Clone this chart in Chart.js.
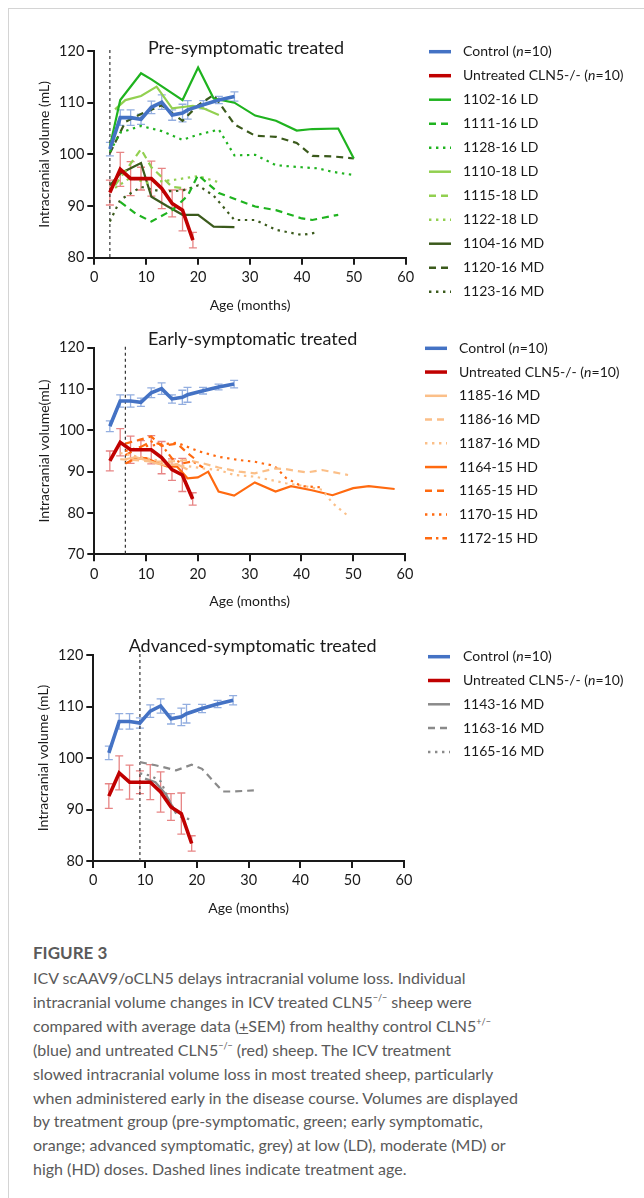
<!DOCTYPE html>
<html>
<head>
<meta charset="utf-8">
<script src="https://cdn.jsdelivr.net/npm/chart.js@4.4.1/dist/chart.umd.min.js"></script>
<style>
html, body { margin: 0; padding: 0; background: #fff; }
body { width: 644px; height: 1198px; position: relative; overflow: hidden; font-family: Lato, "Open Sans", sans-serif; }
#frame { position: absolute; left: 8px; top: 8px; width: 640px; height: 1200px; border-left: 1px solid #d4d4d4; border-top: 1px solid #d4d4d4; }
.panel { position: absolute; left: 0; width: 644px; }
#figlabel { position: absolute; left: 33px; top: 942px; font-size: 17px; font-weight: bold; color: #5a5a5a; line-height: 22px; }
#caption { position: absolute; left: 33px; top: 966px; width: 605px; font-size: 16px; line-height: 23.9px; color: #5a5a5a; white-space: nowrap; }
#caption sup { font-size: 9px; line-height: 0; vertical-align: 7px; }
</style>
</head>
<body>
<div id="frame"></div>
<div class="panel" style="top:0;height:320px"><canvas id="pre"></canvas></div>
<div class="panel" style="top:320px;height:310px"><canvas id="early"></canvas></div>
<div class="panel" style="top:630px;height:300px"><canvas id="adv"></canvas></div>
<div id="figlabel">FIGURE 3</div>
<div id="caption">ICV scAAV9/oCLN5 delays intracranial volume loss. Individual<br>intracranial volume changes in ICV treated CLN5<sup>&minus;/&minus;</sup> sheep were<br>compared with average data (<u>+</u>SEM) from healthy control CLN5<sup>+/&minus;</sup><br>(blue) and untreated CLN5<sup>&minus;/&minus;</sup> (red) sheep. The ICV treatment<br>slowed intracranial volume loss in most treated sheep, particularly<br>when administered early in the disease course. Volumes are displayed<br>by treatment group (pre-symptomatic, green; early symptomatic,<br>orange; advanced symptomatic, grey) at low (LD), moderate (MD) or<br>high (HD) doses. Dashed lines indicate treatment age.</div>
<script>
// control and untreated group means (+/- SEM), same in every panel
const ctrlAge = [3, 5, 7, 9, 11, 13, 15, 17, 18, 21, 24, 27];
const ctrlVol = [101.0, 107.1, 107.1, 106.8, 109.1, 110.1, 107.6, 108.0, 108.6, 109.6, 110.5, 111.2];
const ctrlSem = [1.3, 1.5, 1.5, 1.0, 1.2, 1.4, 1.0, 1.7, 1.8, 0.8, 0.7, 0.9];
const untrAge = [3, 5, 7, 9, 11, 13, 15, 17, 19];
const untrVol = [92.6, 97.1, 95.3, 95.3, 95.3, 93.4, 90.5, 89.2, 83.4];
const untrSem = [2.4, 3.3, 3.3, 2.2, 3.4, 3.9, 2.6, 4.0, 1.5];

// pre-symptomatic treated sheep, [age, volume]
const s1102 = [[3,101.5],[5,110.5],[9,115.7],[11,114.5],[17,110.5],[20,116.8],[23,110.8],[27,110],[31,107.5],[35,106.5],[39,104.6],[42,104.9],[47,105],[50,99.2]];
const s1111 = [[5,90.8],[8,88.5],[11,87],[15,89.2],[18,92],[20,96],[24,92.5],[31,89.9],[35,89.2],[40,87.6],[42,87.3],[47,88.3]];
const s1128 = [[3,100.5],[5,104.2],[9,105.5],[13,104.5],[17,102.8],[20,103.8],[24,104.8],[27,99.8],[31,99.9],[35,97.9],[40,97.5],[43,97.3],[46,96.6],[50,96]];
const s1110 = [[4,108.7],[6,110.5],[9,111.3],[12,113.1],[15,108.9],[19,109.4],[21,108.9],[24,107.6]];
const s1115 = [[4,94],[9,101],[11,97.5],[15,93.7],[17,93.5]];
const s1122 = [[4,93.5],[7,95.5],[10,94.5],[15,95],[20,95.8],[24,94.6]];
const s1104 = [[3,94],[5,96.3],[9,98.3],[11,91.8],[14,90],[17,88.3],[20,88.3],[23,86],[27,85.9]];
const s1120 = [[3,100.2],[6,106.3],[9,107.8],[13,109.5],[17,106.5],[20,109.5],[23,111.5],[27,105.8],[31,103.6],[35,103.4],[39,102.2],[42,99.7],[46,99.6],[50,99.2]];
const s1123 = [[3,87],[5,91.2],[9,93.7],[13,92.8],[17,93],[20,94],[23,92],[27,87.3],[31,87.3],[35,85.4],[40,84.4],[43,84.9]];

// early-symptomatic treated sheep
const s1185 = [[6,93],[8,93.5],[10,92.8],[12,92],[14,91.5],[16,91.8],[18,90.5]];
const s1186 = [[5,93],[8,92.8],[11,92.4],[15,92.5],[18,92.8],[21,92],[24,91],[28,90],[31,89.6],[35,90.8],[37,90.6],[41,89.8],[44,90.4],[49,89.2]];
const s1187 = [[5,94.5],[9,93.5],[13,92.5],[17,91.5],[21,90.8],[24,90.4],[27,89.2],[31,88.8],[34,88],[37,87.2],[41,86.4],[44,85.6],[46,82.4],[49,79.3]];
const s1164 = [[6,92],[8,93.2],[10,93.3],[12,92.2],[14,91.3],[16,91.2],[18,88.4],[20,88.6],[22,90],[24,85.2],[27,84.2],[31,87.4],[35,85.2],[38,86.5],[42,85.5],[46,84.3],[50,86],[53,86.5],[58,85.8]];
const s1165 = [[6,96.8],[9,97.8],[11,98.5],[13,96.2],[16,96.8],[18,94.5],[20,92.5]];
const s1170 = [[6,95],[9,96],[12,96.5],[16,97],[20,95],[24,93.6],[28,92.8],[31,92.4],[34,91.6],[35,91.1],[37,88.5],[40,86.5],[44,86.2]];
const s1172 = [[6,94],[9,96],[11,97.3],[13,96.5],[15,93.2],[17,92],[19,92.5],[21,91]];

// advanced-symptomatic treated sheep
const s1143 = [[10,96],[12,95.3],[14,93],[16,89.2]];
const s1163 = [[9,99.2],[12,98.6],[16,97.6],[19,98.7],[21,97.9],[25,93.5],[27,93.5],[31,93.7]];
const s1165b = [[9,97],[11,96.6],[13,95.5],[15,91],[17,88.5],[19,88]];

Chart.defaults.font.family = 'Lato, "Open Sans", sans-serif';
Chart.defaults.color = '#1a1a1a';

const INK = '#1a1a1a';
const BLUE = '#4472c4', RED = '#c00000';
const GREEN = '#1fb31f', LGREEN = '#92d050', DGREEN = '#3b5a1c';
const ORANGE = '#ff6a10', LORANGE = '#fbbf88', GREY = '#8a8a8a';
const SOLID = [], DASH = [7, 5], DOT = [2.4, 4.6], DASHDOT = [7, 4, 2.4, 4];

function series(label, pairs, color, dash) {
  return {
    label: label,
    data: pairs.map(p => ({x: p[0], y: p[1]})),
    borderColor: color, backgroundColor: color,
    borderDash: dash, borderWidth: 2.2,
    pointRadius: 0, tension: 0, fill: false
  };
}

function meanSeries(label, ages, vols, sem, color, barColor) {
  return {
    label: label,
    data: ages.map((a, i) => ({x: a, y: vols[i]})),
    sem: sem, barColor: barColor,
    borderColor: color, backgroundColor: color,
    borderDash: SOLID, borderWidth: 3.6,
    pointRadius: 0, tension: 0, fill: false
  };
}

function groupLines() {
  return [
    meanSeries('Control (n=10)', ctrlAge, ctrlVol, ctrlSem, BLUE, '#93aee0'),
    meanSeries('Untreated CLN5-/- (n=10)', untrAge, untrVol, untrSem, RED, '#e78585')
  ];
}

// SEM whiskers drawn through the chart scales
const errorBars = {
  id: 'errorBars',
  beforeDatasetsDraw(chart) {
    const {ctx, scales: {x, y}} = chart;
    chart.data.datasets.forEach(ds => {
      if (!ds.sem) return;
      ctx.save();
      ctx.strokeStyle = ds.barColor;
      ctx.lineWidth = 1.3;
      ds.data.forEach((p, i) => {
        const px = x.getPixelForValue(p.x);
        const lo = y.getPixelForValue(p.y - ds.sem[i]);
        const hi = y.getPixelForValue(p.y + ds.sem[i]);
        ctx.beginPath();
        ctx.moveTo(px, lo); ctx.lineTo(px, hi);
        ctx.moveTo(px - 4, lo); ctx.lineTo(px + 4, lo);
        ctx.moveTo(px - 4, hi); ctx.lineTo(px + 4, hi);
        ctx.stroke();
      });
      ctx.restore();
    });
  }
};

// dashed vertical line at treatment age
const treatLine = {
  id: 'treatLine',
  beforeDatasetsDraw(chart, args, opts) {
    const {ctx, chartArea: a, scales: {x}} = chart;
    const px = x.getPixelForValue(opts.age);
    ctx.save();
    ctx.setLineDash([3, 3]);
    ctx.strokeStyle = '#333';
    ctx.lineWidth = 1.2;
    ctx.beginPath();
    ctx.moveTo(px, a.top - 1);
    ctx.lineTo(px, a.bottom);
    ctx.stroke();
    ctx.restore();
  }
};

function drawLabel(ctx, text, x, y) {
  const k = text.indexOf('(n=');
  if (k < 0) { ctx.fillText(text, x, y); return; }
  const head = text.slice(0, k + 1), tail = text.slice(k + 2);
  ctx.font = '14px Lato';
  ctx.fillText(head, x, y);
  let cx = x + ctx.measureText(head).width;
  ctx.font = 'italic 14px Lato';
  ctx.fillText('n', cx, y);
  cx += ctx.measureText('n').width;
  ctx.font = '14px Lato';
  ctx.fillText(tail, cx, y);
}

// panel title and right-hand legend
const panelText = {
  id: 'panelText',
  afterDraw(chart, args, o) {
    const {ctx, chartArea: a} = chart;
    ctx.save();
    ctx.fillStyle = INK;
    ctx.font = '18px Lato';
    ctx.textAlign = 'center';
    ctx.textBaseline = 'middle';
    ctx.fillText(o.title, (a.left + a.right) / 2 + o.titleDx, a.top + o.titleDy);
    ctx.textAlign = 'left';
    chart.data.datasets.forEach((ds, i) => {
      const y = o.legY + i * o.legStep;
      ctx.strokeStyle = ds.borderColor;
      ctx.lineWidth = ds.sem ? 3.5 : 2.5;
      ctx.setLineDash(ds.borderDash);
      ctx.beginPath();
      ctx.moveTo(o.legX, y);
      ctx.lineTo(o.legX + 22, y);
      ctx.stroke();
      ctx.setLineDash([]);
      ctx.font = '14px Lato';
      drawLabel(ctx, ds.label, o.legX + o.textGap, y);
    });
    ctx.restore();
  }
};

function axes(yMin, yTitle) {
  return {
    x: {
      type: 'linear', min: 0, max: 60,
      afterFit: s => { s.height = 60; },
      ticks: {stepSize: 10, font: {size: 14.5}, color: INK, padding: 4, maxRotation: 0},
      grid: {drawOnChartArea: false, tickLength: 7, color: INK, lineWidth: 2},
      border: {color: INK, width: 2},
      title: {display: true, text: 'Age (months)', font: {size: 14}, color: INK, padding: {top: 0, bottom: 4}}
    },
    y: {
      type: 'linear', min: yMin, max: 120,
      afterFit: s => { s.width = 60; },
      ticks: {stepSize: 10, font: {size: 14.5}, color: INK, padding: 3},
      grid: {drawOnChartArea: false, tickLength: 7, color: INK, lineWidth: 2},
      border: {color: INK, width: 2},
      title: {display: true, text: yTitle, font: {size: 14}, color: INK, padding: {top: 2, bottom: 0}}
    }
  };
}

function panel(id, datasets, cfg) {
  new Chart(document.getElementById(id), {
    type: 'line',
    data: {datasets: datasets},
    options: {
      responsive: true, maintainAspectRatio: false, animation: false,
      layout: {padding: cfg.pad},
      scales: axes(cfg.yMin, cfg.yTitle),
      plugins: {
        legend: {display: false}, tooltip: {enabled: false},
        treatLine: {age: cfg.age},
        panelText: cfg.text
      }
    },
    plugins: [errorBars, treatLine, panelText]
  });
}

panel('pre', groupLines().concat([
  series('1102-16 LD', s1102, GREEN, SOLID),
  series('1111-16 LD', s1111, GREEN, DASH),
  series('1128-16 LD', s1128, GREEN, DOT),
  series('1110-18 LD', s1110, LGREEN, SOLID),
  series('1115-18 LD', s1115, LGREEN, DASH),
  series('1122-18 LD', s1122, LGREEN, DOT),
  series('1104-16 MD', s1104, DGREEN, SOLID),
  series('1120-16 MD', s1120, DGREEN, DASH),
  series('1123-16 MD', s1123, DGREEN, DOT)
]), {
  yMin: 80, yTitle: 'Intracranial volume (mL)', age: 3,
  pad: {left: 34.3, right: 238.3, top: 51, bottom: 2.3},
  text: {title: 'Pre-symptomatic treated', titleDx: -4, titleDy: -3, legX: 429, legY: 51.7, legStep: 24, textGap: 34}
});

panel('early', groupLines().concat([
  series('1185-16 MD', s1185, LORANGE, SOLID),
  series('1186-16 MD', s1186, LORANGE, DASH),
  series('1187-16 MD', s1187, LORANGE, DOT),
  series('1164-15 HD', s1164, ORANGE, SOLID),
  series('1165-15 HD', s1165, ORANGE, DASH),
  series('1170-15 HD', s1170, ORANGE, DOT),
  series('1172-15 HD', s1172, ORANGE, DASHDOT)
]), {
  yMin: 70, yTitle: 'Intracranial volume(mL)', age: 6,
  pad: {left: 34.3, right: 239, top: 27.7, bottom: 15.7},
  text: {title: 'Early-symptomatic treated', titleDx: 3, titleDy: -9, legX: 425, legY: 28.3, legStep: 23.75, textGap: 34}
});

panel('adv', groupLines().concat([
  series('1143-16 MD', s1143, GREY, SOLID),
  series('1163-16 MD', s1163, GREY, DASH),
  series('1165-16 MD', s1165b, GREY, DOT)
]), {
  yMin: 80, yTitle: 'Intracranial volume (mL)', age: 9,
  pad: {left: 33.3, right: 240, top: 25, bottom: 9},
  text: {title: 'Advanced-symptomatic treated', titleDx: 4, titleDy: -8.5, legX: 428, legY: 26.7, legStep: 23.8, textGap: 35}
});
</script>
</body>
</html>
